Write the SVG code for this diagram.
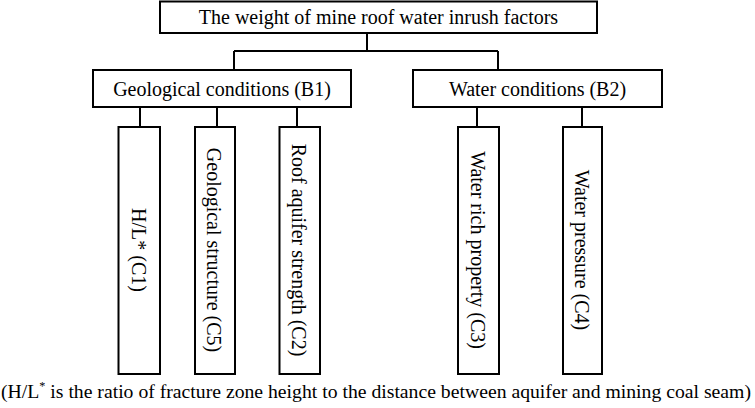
<svg xmlns="http://www.w3.org/2000/svg" width="755" height="408" viewBox="0 0 755 408">
<style>
.box{fill:#fff;stroke:#000;stroke-width:2}
.ln{fill:none;stroke:#000;stroke-width:2}
text{font-family:"Liberation Serif","Times New Roman",serif;font-size:20px;fill:#000}
.h{text-anchor:middle}
.v{text-anchor:middle}
</style>
<rect width="755" height="408" fill="#fff"/>
<g id="connectors">
<path class="ln" d="M367,33 V51 M234,51 H498 M234,51 V70 M498,51 V70"/>
<path class="ln" d="M140,107 V127 M217,107 V127 M297,107 V127"/>
<path class="ln" d="M477,107 V127 M582,107 V127"/>
</g>
<g id="root">
<rect class="box" x="160" y="1.5" width="437" height="31.5"/>
<text class="h" x="378.5" y="23.5">The weight of mine roof water inrush factors</text>
</g>
<g id="B1">
<rect class="box" x="93" y="70" width="258" height="37"/>
<text class="h" x="222" y="96">Geological conditions (B1)</text>
</g>
<g id="B2">
<rect class="box" x="413" y="70" width="249" height="37"/>
<text class="h" x="537.5" y="96">Water conditions (B2)</text>
</g>
<g id="C1">
<rect class="box" x="118.5" y="127" width="41.5" height="247"/>
<text class="v" transform="translate(139,250) rotate(90)" y="7">H/L* (C1)</text>
</g>
<g id="C5">
<rect class="box" x="195" y="127" width="40" height="247"/>
<text class="v" transform="translate(214,250) rotate(90)" y="7">Geological structure (C5)</text>
</g>
<g id="C2">
<rect class="box" x="279.5" y="127" width="40.5" height="247"/>
<text class="v" transform="translate(299,250) rotate(90)" y="7">Roof aquifer strength (C2)</text>
</g>
<g id="C3">
<rect class="box" x="458" y="127" width="41" height="247"/>
<text class="v" transform="translate(478,250) rotate(90)" y="7">Water rich property (C3)</text>
</g>
<g id="C4">
<rect class="box" x="563" y="127" width="39" height="247"/>
<text class="v" transform="translate(582,250) rotate(90)" y="7">Water pressure (C4)</text>
</g>
<g id="footnote">
<text x="1" y="398" style="font-size:19.4px" textLength="750" lengthAdjust="spacingAndGlyphs">(H/L<tspan font-size="12" dy="-8">*</tspan><tspan dy="8"> is the ratio of fracture zone height to the distance between aquifer and mining coal seam)</tspan></text>
</g>
</svg>
